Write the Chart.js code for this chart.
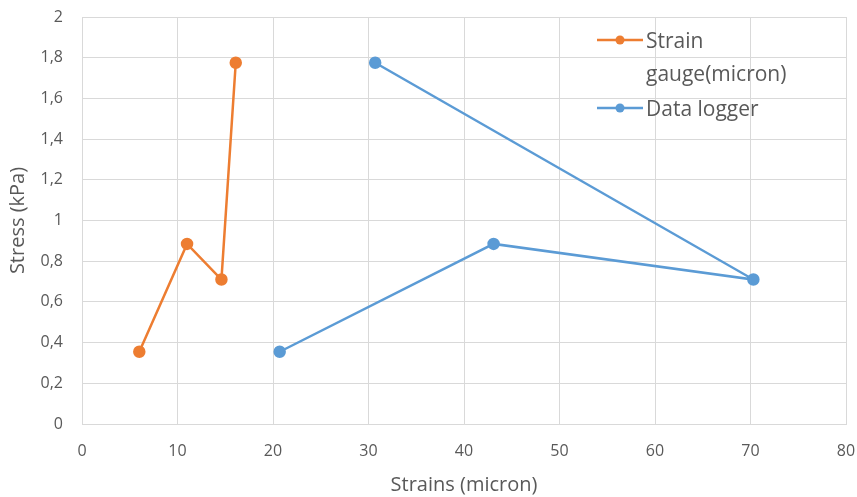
<!DOCTYPE html>
<html>
<head>
<meta charset="utf-8">
<script src="https://cdn.jsdelivr.net/npm/chart.js@4.4.0/dist/chart.umd.min.js"></script>
<style>
  html, body { margin: 0; padding: 0; background: #fff; }
  #wrap { width: 857px; height: 497px; }
</style>
</head>
<body>
<div id="wrap"><canvas id="myChart" width="857" height="497"></canvas></div>
<script>
// values
var gaugeX = [6.0, 11.0, 14.6, 16.1];
var gaugeY = [0.355, 0.885, 0.71, 1.775];
var loggerX = [20.7, 43.1, 70.3, 30.7];
var loggerY = [0.355, 0.885, 0.71, 1.775];
var seriesNames = [['Strain', 'gauge(micron)'], ['Data logger']];
var xTitle = 'Strains (micron)';
var yTitle = 'Stress (kPa)';

var orange = '#ED7D31';
var blue = '#5B9BD5';
var textGray = '#595959';
var fontName = "'Open Sans', sans-serif";

function toPoints(xs, ys) {
    var pts = [];
    for (var i = 0; i < xs.length; i++) pts.push({ x: xs[i], y: ys[i] });
    return pts;
}

function commaNum(v) {
    return String(Number(v.toFixed(1))).replace('.', ',');
}

// legend drawn inside the plot, with a two line label for the first series
var insideLegend = {
    id: 'insideLegend',
    afterDraw: function (chart) {
        var ctx = chart.ctx;
        var rows = [40, 108];
        ctx.save();
        ctx.font = '21px ' + fontName;
        ctx.textBaseline = 'middle';
        chart.data.datasets.forEach(function (ds, i) {
            var y = rows[i];
            ctx.strokeStyle = ds.borderColor;
            ctx.lineWidth = 2.5;
            ctx.beginPath();
            ctx.moveTo(597, y);
            ctx.lineTo(643, y);
            ctx.stroke();
            ctx.fillStyle = ds.borderColor;
            ctx.beginPath();
            ctx.arc(620, y, 4.5, 0, Math.PI * 2);
            ctx.fill();
            ctx.fillStyle = textGray;
            seriesNames[i].forEach(function (line, k) {
                ctx.fillText(line, 646, y + 2 + k * 33);
            });
        });
        ctx.restore();
    }
};

var ctx = document.getElementById('myChart').getContext('2d');
var myChart = new Chart(ctx, {
    type: 'scatter',
    data: {
        datasets: [{
            label: seriesNames[0].join(' '),
            data: toPoints(gaugeX, gaugeY),
            showLine: true,
            borderColor: orange,
            backgroundColor: orange,
            borderWidth: 2.5,
            pointRadius: 5,
            pointHoverRadius: 5
        }, {
            label: seriesNames[1].join(' '),
            data: toPoints(loggerX, loggerY),
            showLine: true,
            borderColor: blue,
            backgroundColor: blue,
            borderWidth: 2.5,
            pointRadius: 5,
            pointHoverRadius: 5
        }]
    },
    options: {
        responsive: false,
        animation: false,
        layout: { padding: { top: 17, right: 11, left: 6, bottom: 0 } },
        plugins: {
            legend: { display: false },
            tooltip: { enabled: false }
        },
        scales: {
            x: {
                min: 0,
                max: 80,
                ticks: {
                    stepSize: 10,
                    color: textGray,
                    font: { family: fontName, size: 16 },
                    padding: 18
                },
                grid: { color: '#d9d9d9', drawTicks: false },
                border: { color: '#d9d9d9' },
                title: {
                    display: true,
                    text: xTitle,
                    color: textGray,
                    font: { family: fontName, size: 20 },
                    padding: { top: 6, bottom: 0 }
                },
                afterFit: function (scale) {
                    scale.height = 73;
                    scale.paddingLeft = 0;
                    scale.paddingRight = 0;
                }
            },
            y: {
                min: 0,
                max: 2,
                ticks: {
                    stepSize: 0.2,
                    color: textGray,
                    font: { family: fontName, size: 16 },
                    padding: 19,
                    callback: function (v) { return commaNum(v); }
                },
                grid: { color: '#d9d9d9', drawTicks: false },
                border: { color: '#d9d9d9' },
                title: {
                    display: true,
                    text: yTitle,
                    color: textGray,
                    font: { family: fontName, size: 20 },
                    padding: { top: 0, bottom: 0 }
                },
                afterFit: function (scale) {
                    scale.width = 76;
                    scale.paddingTop = 0;
                    scale.paddingBottom = 0;
                }
            }
        }
    },
    plugins: [insideLegend]
});
</script>
</body>
</html>
